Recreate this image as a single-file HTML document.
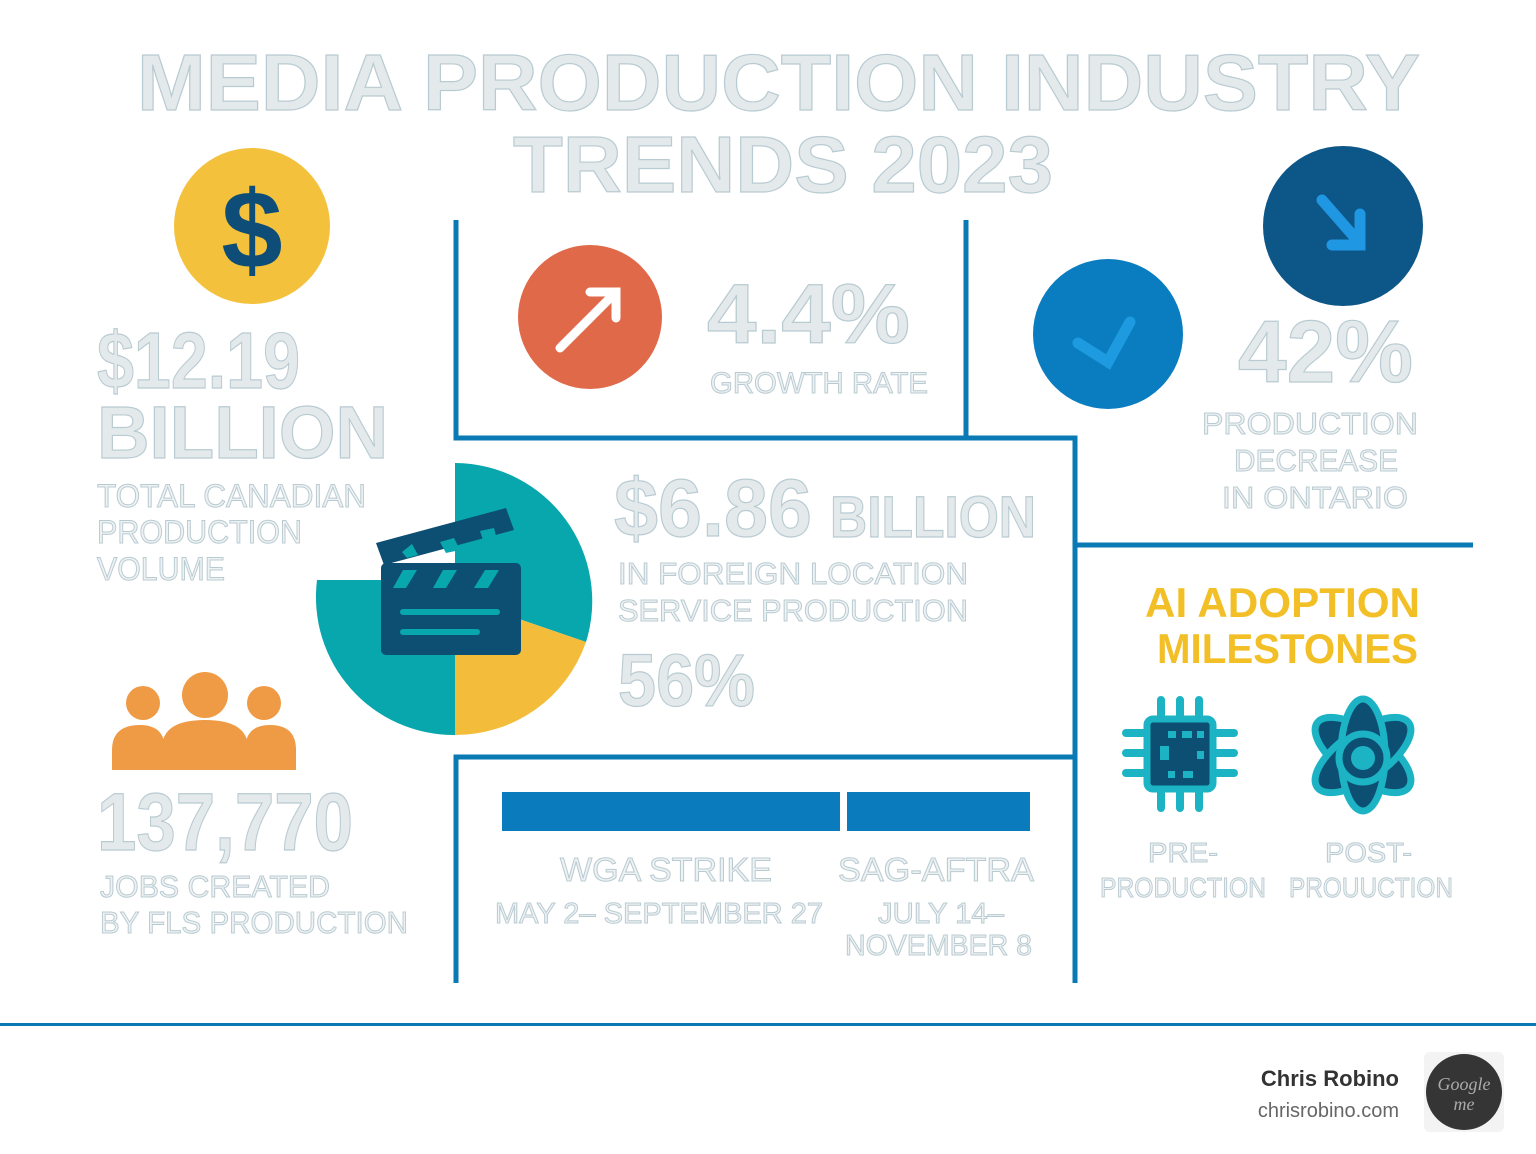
<!DOCTYPE html>
<html><head><meta charset="utf-8"><style>
html,body{margin:0;padding:0;background:#fff;}
svg{display:block;}
.o{fill:#e4eaec;stroke:#b9cbd2;stroke-width:1.2;font-family:"Liberation Sans",sans-serif;font-weight:bold;}
.s{fill:#eef2f3;stroke:#b9cbd2;stroke-width:1;font-family:"Liberation Sans",sans-serif;}
</style></head><body>
<svg width="1536" height="1154" viewBox="0 0 1536 1154" xmlns="http://www.w3.org/2000/svg">
<rect width="1536" height="1154" fill="#fff"/>
<!-- title -->
<text class="o" x="137" y="110" font-size="80" textLength="1283" lengthAdjust="spacingAndGlyphs">MEDIA PRODUCTION INDUSTRY</text>
<text class="o" x="513" y="192" font-size="80" textLength="540" lengthAdjust="spacingAndGlyphs">TRENDS 2023</text>
<!-- lines -->
<g stroke="#0a7ab5" stroke-width="5" fill="none">
<path d="M456 220V438H1075V983"/>
<path d="M966 220V438"/>
<path d="M1075 545H1473"/>
<path d="M456 983V757H1073"/>
</g>
<rect x="0" y="1023" width="1536" height="3" fill="#0a7ab5"/>
<!-- circles -->
<circle cx="252" cy="226" r="78" fill="#f3c13c"/>
<text x="252" y="268" font-size="110" font-family="Liberation Sans,sans-serif" font-weight="bold" fill="#0d4d78" text-anchor="middle">$</text>
<circle cx="590" cy="317" r="72" fill="#e0694a"/>
<path d="M560 348L615 293M590 292H616V318" stroke="#fff" stroke-width="9" stroke-linecap="round" fill="none"/>
<circle cx="1108" cy="334" r="75" fill="#0a7dc0"/>
<path d="M1078 343L1108 362L1130 322" stroke="#1e9be0" stroke-width="11" stroke-linecap="round" fill="none"/>
<circle cx="1343" cy="226" r="80" fill="#0d5688"/>
<path d="M1322 200L1357 240M1332 245H1360V214" stroke="#1f97e3" stroke-width="11" stroke-linecap="round" fill="none"/>
<!-- pie -->
<path d="M455 597L455 463A138 138 0 0 1 586 642Z" fill="#08a6ad"/>
<path d="M455 597L586 642A138 138 0 0 1 455 735Z" fill="#f3bd3b"/>
<path d="M455 597L455 735A138 138 0 0 1 317 580L455 580Z" fill="#08a6ad"/>
<g fill="#0d4f72">
<rect x="381" y="563" width="140" height="92" rx="5"/>
<path d="M376 543L506 508L514 530L384 565Z"/>
</g>
<g fill="#08a6ad">
<path d="M403 570H417L406 588H393Z M443 570H457L446 588H433Z M485 570H499L488 588H474Z"/>
<path d="M402 552L412 544L418 555L407 558Z M440 542L454 538L460 550L446 553Z M480 531L494 528L497 540L484 543Z"/>
<rect x="400" y="609" width="100" height="6" rx="3"/>
<rect x="400" y="629" width="80" height="6" rx="3"/>
</g>
<!-- left texts -->
<text class="o" x="97" y="388" font-size="80" textLength="203" lengthAdjust="spacingAndGlyphs">$12.19</text>
<text class="o" x="97" y="458" font-size="74" textLength="291" lengthAdjust="spacingAndGlyphs">BILLION</text>
<text class="s" x="97" y="507" font-size="32" textLength="269" lengthAdjust="spacingAndGlyphs">TOTAL CANADIAN</text>
<text class="s" x="97" y="543" font-size="32" textLength="205" lengthAdjust="spacingAndGlyphs">PRODUCTION</text>
<text class="s" x="97" y="580" font-size="32" textLength="128" lengthAdjust="spacingAndGlyphs">VOLUME</text>
<!-- people -->
<g fill="#ef9a45">
<circle cx="143" cy="703" r="17"/><circle cx="205" cy="695" r="23"/><circle cx="264" cy="703" r="17"/>
<path d="M112 770V750Q112 725 140 725Q165 725 165 750V770Z"/>
<path d="M162 770V748Q162 720 205 720Q248 720 248 748V770Z"/>
<path d="M245 770V750Q245 725 270 725Q296 725 296 750V770Z"/>
</g>
<text class="o" x="97" y="850" font-size="82" textLength="256" lengthAdjust="spacingAndGlyphs">137,770</text>
<text class="s" x="100" y="897" font-size="31" textLength="230" lengthAdjust="spacingAndGlyphs">JOBS CREATED</text>
<text class="s" x="100" y="933" font-size="31" textLength="308" lengthAdjust="spacingAndGlyphs">BY FLS PRODUCTION</text>
<!-- center texts -->
<text class="o" x="707" y="343" font-size="84" textLength="203" lengthAdjust="spacingAndGlyphs">4.4%</text>
<text class="s" x="710" y="393" font-size="30" textLength="218" lengthAdjust="spacingAndGlyphs">GROWTH RATE</text>
<text class="o" x="614" y="536" font-size="82" textLength="198" lengthAdjust="spacingAndGlyphs">$6.86</text>
<text class="o" x="830" y="537" font-size="58" textLength="206" lengthAdjust="spacingAndGlyphs">BILLION</text>
<text class="s" x="618" y="584" font-size="31" textLength="350" lengthAdjust="spacingAndGlyphs">IN FOREIGN LOCATION</text>
<text class="s" x="618" y="621" font-size="31" textLength="350" lengthAdjust="spacingAndGlyphs">SERVICE PRODUCTION</text>
<text class="o" x="618" y="706" font-size="74" textLength="137" lengthAdjust="spacingAndGlyphs">56%</text>
<!-- bars -->
<rect x="502" y="792" width="338" height="39" fill="#0a7bbd"/>
<rect x="847" y="792" width="183" height="39" fill="#0a7bbd"/>
<text class="s" x="560" y="881" font-size="33" textLength="212" lengthAdjust="spacingAndGlyphs">WGA STRIKE</text>
<text class="s" x="495" y="923" font-size="29" textLength="328" lengthAdjust="spacingAndGlyphs">MAY 2– SEPTEMBER 27</text>
<text class="s" x="838" y="881" font-size="33" textLength="196" lengthAdjust="spacingAndGlyphs">SAG-AFTRA</text>
<text class="s" x="878" y="923" font-size="29" textLength="126" lengthAdjust="spacingAndGlyphs">JULY 14–</text>
<text class="s" x="845" y="955" font-size="29" textLength="187" lengthAdjust="spacingAndGlyphs">NOVEMBER 8</text>
<!-- right texts -->
<text class="o" x="1238" y="382" font-size="88" textLength="175" lengthAdjust="spacingAndGlyphs">42%</text>
<text class="s" x="1202" y="434" font-size="31" textLength="216" lengthAdjust="spacingAndGlyphs">PRODUCTION</text>
<text class="s" x="1234" y="471" font-size="31" textLength="164" lengthAdjust="spacingAndGlyphs">DECREASE</text>
<text class="s" x="1222" y="508" font-size="31" textLength="186" lengthAdjust="spacingAndGlyphs">IN ONTARIO</text>
<text x="1145" y="617" font-size="42" font-family="Liberation Sans,sans-serif" font-weight="bold" fill="#f2bf27" textLength="275" lengthAdjust="spacingAndGlyphs">AI ADOPTION</text>
<text x="1157" y="663" font-size="42" font-family="Liberation Sans,sans-serif" font-weight="bold" fill="#f2bf27" textLength="261" lengthAdjust="spacingAndGlyphs">MILESTONES</text>
<!-- chip -->
<g stroke="#1cb3c4" stroke-width="8" stroke-linecap="round">
<path d="M1161 700V720M1180 700V720M1199 700V720M1161 788V808M1180 788V808M1199 808V788M1126 733H1146M1126 753H1146M1126 773H1146M1214 733H1234M1214 753H1234M1214 773H1234"/>
</g>
<rect x="1147" y="719" width="66" height="70" rx="6" fill="#0d4f72" stroke="#1cb3c4" stroke-width="7"/>
<g fill="#1cb3c4"><rect x="1168" y="731" width="8" height="7"/><rect x="1182" y="731" width="10" height="7"/><rect x="1197" y="731" width="7" height="7"/><rect x="1160" y="746" width="9" height="14"/><rect x="1197" y="751" width="7" height="8"/><rect x="1168" y="771" width="7" height="7"/><rect x="1183" y="771" width="10" height="7"/></g>
<!-- atom -->
<g fill="#0d4f72" stroke="#1cb3c4" stroke-width="7">
<ellipse cx="1363" cy="755" rx="56" ry="24" transform="rotate(35 1363 755)"/>
<ellipse cx="1363" cy="755" rx="56" ry="24" transform="rotate(-35 1363 755)"/>
<ellipse cx="1363" cy="755" rx="22" ry="56"/>
<circle cx="1363" cy="758" r="24"/>
</g>
<circle cx="1363" cy="758" r="12" fill="#1cb3c4"/>
<text class="s" x="1148" y="862" font-size="28" textLength="70" lengthAdjust="spacingAndGlyphs">PRE-</text>
<text class="s" x="1100" y="897" font-size="28" textLength="166" lengthAdjust="spacingAndGlyphs">PRODUCTION</text>
<text class="s" x="1325" y="862" font-size="28" textLength="87" lengthAdjust="spacingAndGlyphs">POST-</text>
<text class="s" x="1289" y="897" font-size="28" textLength="164" lengthAdjust="spacingAndGlyphs">PROUUCTION</text>
<!-- signature -->
<text x="1399" y="1086" font-size="22" font-family="Liberation Sans,sans-serif" font-weight="bold" fill="#333" text-anchor="end">Chris Robino</text>
<text x="1399" y="1117" font-size="20" font-family="Liberation Sans,sans-serif" fill="#666" text-anchor="end">chrisrobino.com</text>
<rect x="1424" y="1052" width="80" height="80" rx="6" fill="#f3f3f3"/>
<circle cx="1464" cy="1092" r="38" fill="#353535"/>
<text x="1464" y="1090" font-size="18" font-family="Liberation Serif,serif" font-style="italic" fill="#aaa" text-anchor="middle">Google</text>
<text x="1464" y="1110" font-size="18" font-family="Liberation Serif,serif" font-style="italic" fill="#aaa" text-anchor="middle">me</text>
</svg>
</body></html>
